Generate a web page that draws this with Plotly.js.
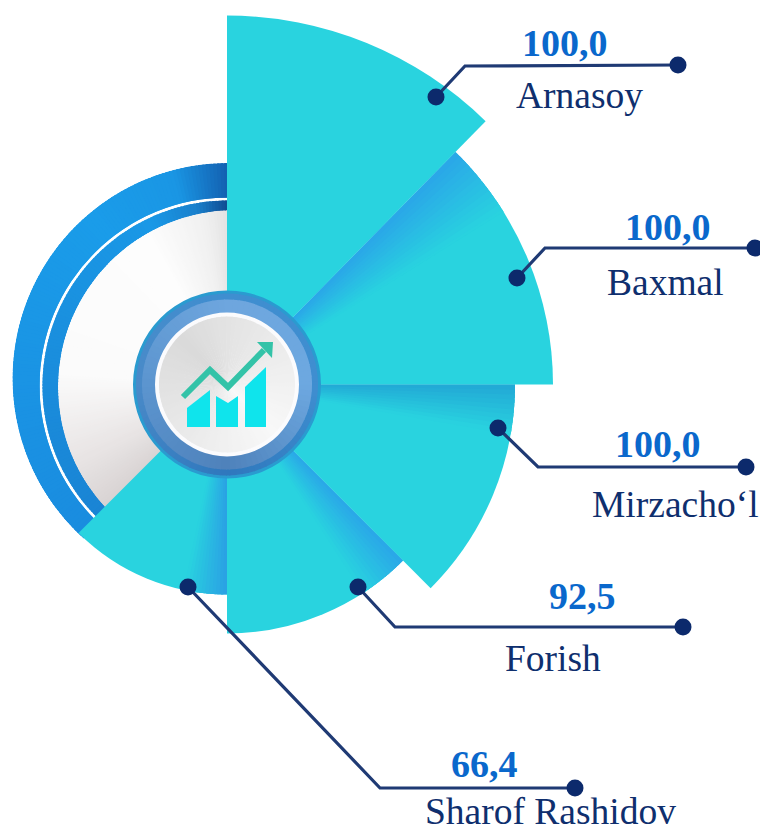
<!DOCTYPE html>
<html>
<head>
<meta charset="utf-8">
<script src="https://cdn.plot.ly/plotly-3.0.1.min.js"></script>
<style>
html,body{margin:0;padding:0;width:760px;height:834px;overflow:hidden;background:#fff}
#chart{position:absolute;left:-150px;top:0;width:910px;height:834px}
</style>
</head>
<body>
<div id="chart"></div>
<script>
// ---- data ----
var categories = ['Arnasoy', 'Baxmal', 'Mirzacho\u2018l', 'Forish', 'Sharof Rashidov'];
var values = [100.0, 100.0, 100.0, 92.5, 66.4];
var wedgeLength = [369, 326, 288, 249, 210];
var wedgeCentre = [22.25, 67.25, 112.5, 157.5, 202.5];
var wedgeSpan = [44.5, 45.5, 45, 45, 45];

// ---- page geometry ----
var OFFX = 150, W = 910, H = 834;
function px(x) { return (x + OFFX) / W; }
function py(y) { return 1 - y / H; }

function hex(c) { return [1, 3, 5].map(function (i) { return parseInt(c.substr(i, 2), 16); }); }
function mix(a, b, t) {
  var A = hex(a), B = hex(b);
  return 'rgb(' + A.map(function (v, i) { return Math.round(v + (B[i] - v) * t); }).join(',') + ')';
}
function fan(subplot, stops, r, base, step) {
  var th = [], wd = [], col = [];
  var last = stops[stops.length - 1][0], OV = 0.7;
  step = step || 1;
  for (var s = 0; s < stops.length - 1; s++) {
    var a = stops[s], b = stops[s + 1];
    for (var t = a[0]; t < b[0] - 1e-6; t += step) {
      var e = Math.min(t + step, b[0]);
      var eo = Math.min(e + OV, last);
      th.push((t + eo) / 2); wd.push(eo - t);
      col.push(mix(a[1], b[1], ((t + e) / 2 - a[0]) / (b[0] - a[0])));
    }
  }
  return {
    type: 'barpolar', subplot: subplot, theta: th, width: wd,
    r: th.map(function () { return r - base; }), base: th.map(function () { return base; }),
    marker: { color: col, line: { width: 0 } },
    hoverinfo: 'skip', showlegend: false
  };
}
function disc(subplot, r, base, color) {
  return {
    type: 'barpolar', subplot: subplot, theta: [180], width: [360], r: [r - base], base: [base],
    marker: { color: color, line: { width: 0 } }, hoverinfo: 'skip', showlegend: false
  };
}

var traces = [];
// left ring and pale disc, each arc has its own centre in the original
traces.push(fan('polar', [[222, '#1a8cdf'], [320, '#1a9ce9'], [345, '#1a96e4'], [360, '#1360b0']], 215.5, 0));
traces.push(disc('polar2', 188.5, 0, '#ffffff'));
traces.push(fan('polar2', [[224, '#1a84d4'], [335, '#1a98e6'], [350, '#1a80cc'], [360, '#0f4a90']], 185.5, 0));
traces.push(fan('polar3', [[225, '#d6d0d0'], [245, '#e8e4e4'], [275, '#fbfbfb'], [330, '#fdfdfd'], [350, '#f0f0f0'], [360, '#dedede']], 177, 0));

// wedges
traces.push({
  type: 'barpolar', subplot: 'polar4', theta: wedgeCentre, r: wedgeLength, width: wedgeSpan,
  text: categories, customdata: values,
  marker: { color: '#29d3df', line: { width: 0 } },
  hovertemplate: '%{text}: %{customdata}<extra></extra>', showlegend: false
});
// shading on the leading edge of the wedges
traces.push(fan('polar4', [[44.5, '#2aa6e8'], [58, '#29d3df']], wedgeLength[1], 0, 1));
traces.push(fan('polar4', [[90, '#22a8d6'], [100, '#29d3df']], wedgeLength[2], 0, 1));
traces.push(fan('polar4', [[135, '#2aa6e8'], [147, '#29d3df']], wedgeLength[3], 0, 1));
traces.push(fan('polar4', [[180, '#2aa0e4'], [192, '#29d3df']], wedgeLength[4], 0, 1));

// central badge
traces.push(disc('polar4', 94, 0, '#2a9bd0'));
traces.push(fan('polar4', [[0, '#3f8ed0'], [90, '#3f8ed0'], [180, '#2f78bd'], [270, '#4a8ac8'], [360, '#3f8ed0']], 91, 0, 4));
traces.push(fan('polar4', [[0, '#6ea6de'], [90, '#6da8e0'], [180, '#4f82bb'], [270, '#5c95cf'], [360, '#6ea6de']], 85, 0, 4));
traces.push(disc('polar4', 72, 0, '#fbfbfd'));
traces.push(fan('polar4', [[0, '#e3e3e3'], [135, '#f8f8f8'], [315, '#dadada'], [360, '#e3e3e3']], 68, 0, 4));

function domain(cx, cy, R) {
  return { x: [px(cx - R), px(cx + R)], y: [py(cy + R), py(cy - R)] };
}
function polar(cx, cy, R) {
  return {
    domain: domain(cx, cy, R), bgcolor: 'rgba(0,0,0,0)',
    radialaxis: { visible: false, range: [0, R] },
    angularaxis: { visible: false, rotation: 90, direction: 'clockwise' }
  };
}

// ---- leader lines and icon (window pixels) ----
var LINE = '#1f3a74', DOT = '#0c2a6c';
var leaders = [
  [[436, 97], [465, 66], [678, 65]],
  [[517, 278], [545, 248], [755, 248]],
  [[498, 428], [538, 467], [746, 467]],
  [[358, 587], [395, 627], [683, 627]],
  [[188, 587], [380, 788], [575, 788]]
];
function pathOf(pts, close) {
  return pts.map(function (p, i) { return (i ? 'L' : 'M') + px(p[0]) + ',' + py(p[1]); }).join(' ') + (close ? ' Z' : '');
}
function dot(p, r) {
  return {
    type: 'circle', xref: 'paper', yref: 'paper', x0: px(p[0] - r), x1: px(p[0] + r), y0: py(p[1] + r), y1: py(p[1] - r),
    fillcolor: DOT, line: { width: 0 }, layer: 'above'
  };
}
var shapes = [];
leaders.forEach(function (l) {
  shapes.push({ type: 'path', xref: 'paper', yref: 'paper', path: pathOf(l), line: { color: LINE, width: 3.2 }, layer: 'above' });
  shapes.push(dot(l[0], 8.5));
  shapes.push(dot(l[2], 8.5));
});
var iconBars = [
  [[187, 427], [187, 408], [210, 390], [210, 427]],
  [[216, 427], [216, 396], [228, 403], [238, 396], [238, 427]],
  [[245, 427], [245, 387], [266, 367], [266, 427]]
];
iconBars.forEach(function (b) {
  shapes.push({ type: 'path', xref: 'paper', yref: 'paper', path: pathOf(b, true), fillcolor: '#0fe4ec', line: { width: 0 }, layer: 'above' });
});
shapes.push({ type: 'path', xref: 'paper', yref: 'paper', path: pathOf([[183, 397], [210, 370], [228, 387], [264, 350]]), line: { color: '#33c3a8', width: 6 }, layer: 'above' });
shapes.push({ type: 'path', xref: 'paper', yref: 'paper', path: pathOf([[257, 342], [273, 342], [272, 358]], true), fillcolor: '#33c3a8', line: { width: 0 }, layer: 'above' });

// ---- text ----
var valuePos = [[565, 43], [668, 227], [658, 444], [582, 596], [484, 764]];
var namePos = [[579, 96], [665, 282], [675, 504], [553, 658], [550, 811]];
var annotations = [];
categories.forEach(function (c, i) {
  annotations.push({
    xref: 'paper', yref: 'paper', x: px(valuePos[i][0]), y: py(valuePos[i][1]), xanchor: 'center', yanchor: 'middle', showarrow: false,
    text: '<b>' + values[i].toFixed(1).replace('.', ',') + '</b>',
    font: { family: 'Liberation Serif', size: 38, color: '#0a68cc' }
  });
  annotations.push({
    xref: 'paper', yref: 'paper', x: px(namePos[i][0]), y: py(namePos[i][1]), xanchor: 'center', yanchor: 'middle', showarrow: false,
    text: c, font: { family: 'Liberation Serif', size: 37.5, color: '#0f2f6e' }
  });
});

var layout = {
  width: W, height: H, margin: { l: 0, r: 0, t: 0, b: 0 }, autosize: false,
  paper_bgcolor: '#ffffff', showlegend: false,
  polar: polar(228, 378.5, 215.5),
  polar2: polar(228, 386, 188.5),
  polar3: polar(235, 387, 177),
  polar4: polar(227, 384.5, 372),
  shapes: shapes, annotations: annotations
};
Plotly.newPlot('chart', traces, layout, { displayModeBar: false });
</script>
</body>
</html>
